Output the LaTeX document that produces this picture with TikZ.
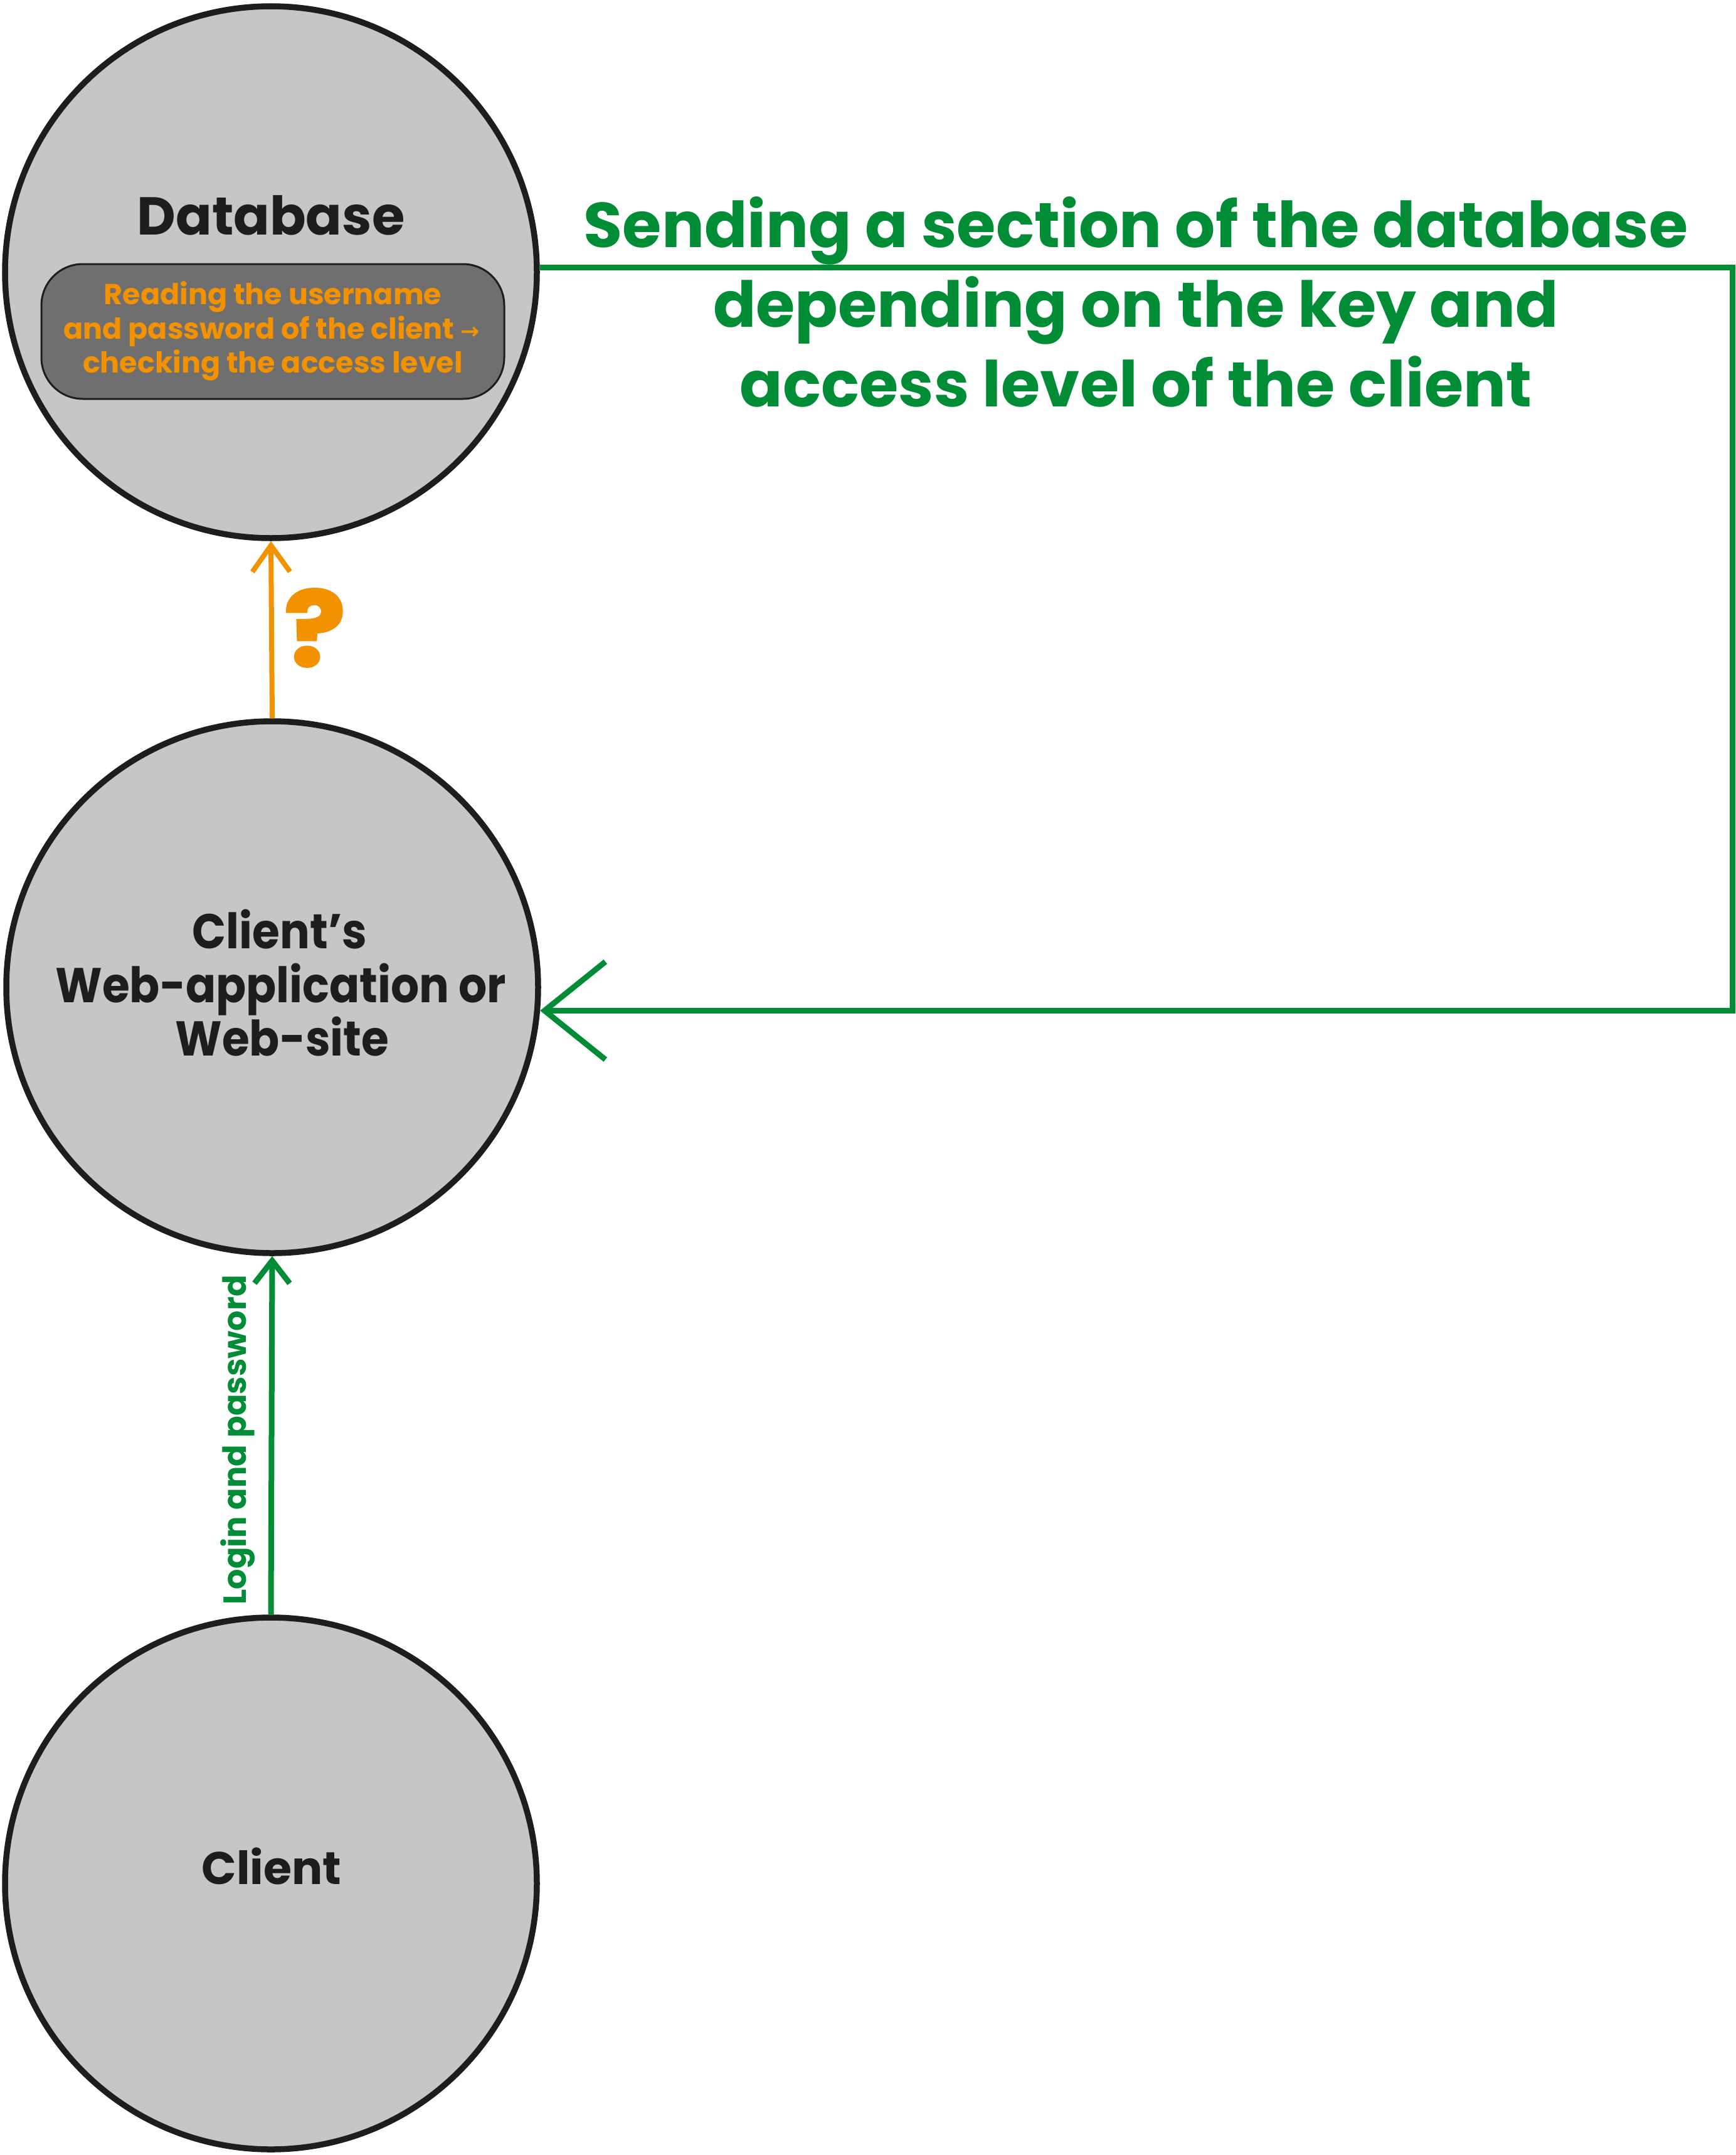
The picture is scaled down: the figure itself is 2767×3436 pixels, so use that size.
\documentclass[tikz,border=0pt]{standalone}
\usepackage{fontspec}
\setmainfont{Poppins}
\newfontfamily\condfont{Poppins}[FakeStretch=0.91]
\newfontfamily\heavyfont{Poppins}[BoldFeatures={FakeBold=3}, FakeStretch=1.1]
\newfontfamily\arrowfont{DejaVu Sans}
\usetikzlibrary{arrows.meta}
\definecolor{circfill}{HTML}{C6C6C6}
\definecolor{ink}{HTML}{1D1D1B}
\definecolor{boxfill}{HTML}{706F6F}
\definecolor{orng}{HTML}{F39200}
\definecolor{grn}{HTML}{008D36}
\begin{document}
\begin{tikzpicture}[x=1pt,y=-1pt,
  bubble/.style={circle, draw=ink, fill=circfill, line width=9.5pt, minimum size=848pt, inner sep=0pt},
  bigtitle/.style={text=ink, inner sep=0pt, anchor=base, font=\fontsize{#1}{#1}\selectfont\bfseries},
  webtitle/.style={text=ink, inner sep=0pt, anchor=base, font=\condfont\fontsize{78}{78}\selectfont\bfseries},
  boxline/.style={text=orng, inner sep=0pt, anchor=base, font=\fontsize{46}{46}\selectfont\bfseries},
  sendline/.style={text=grn, inner sep=0pt, anchor=base, font=\fontsize{101}{101}\selectfont\bfseries},
  checkbox/.style={draw=ink, fill=boxfill, line width=3pt, rounded corners=66pt, minimum width=738pt, minimum height=215pt, inner sep=0pt},
  greenarrow/.style={draw=grn, line width=9pt},
  orangearrow/.style={draw=orng, line width=8pt}
]
\useasboundingbox (0,0) rectangle (2767,3436);
% circles
\node[bubble] (db) at (432,434) {};
\node[bubble] (web) at (434,1574) {};
\node[bubble] (cli) at (432,3003) {};
% database content
\node[bigtitle=85] (dbt) at (432,374) {Database};
\node[checkbox] (chk) at (435,528.5) {};
\node[boxline] (b1) at (435,485) {Reading the username};
\node[boxline] (b2) at (433,540) {and password of the client {\arrowfont\fontsize{36}{36}\selectfont →}};
\node[boxline] (b3) at (435,594) {checking the access level};
% web content
\node[webtitle] (w1) at (446,1512) {Client’s};
\node[webtitle] (w2) at (448,1598) {Web-application or};
\node[webtitle] (w3) at (450,1683) {Web-site};
% client content
\node[bigtitle=73] (ct) at (433,3004) {Client};
% green text
\node[sendline] (s1) at (1811,394) {Sending a section of the database};
\node[sendline] (s2) at (1811,521) {depending on the key and};
\node[sendline] (s3) at (1811,648) {access level of the client};
% connectors
\coordinate (rc) at (2762,434);
\draw[greenarrow, -{Straight Barb[length=97pt,width=156pt]}] (db.1) -- (db.1 -| rc) |- (web.-5);
\draw[orangearrow, -{Straight Barb[length=42pt,width=60pt]}] (web.north) -- (db.south);
\draw[greenarrow, -{Straight Barb[length=36pt,width=56pt]}] (cli.north) -- (web.south);
% labels
\node[text=orng, inner sep=0pt, font=\heavyfont\fontsize{164}{164}\selectfont\bfseries] (q) at (502,1001) {?};
\node[text=grn, inner sep=0pt, rotate=90, anchor=base, font=\fontsize{51}{51}\selectfont\bfseries] (login) at (392,2296) {Login and password};
\end{tikzpicture}
\end{document}
